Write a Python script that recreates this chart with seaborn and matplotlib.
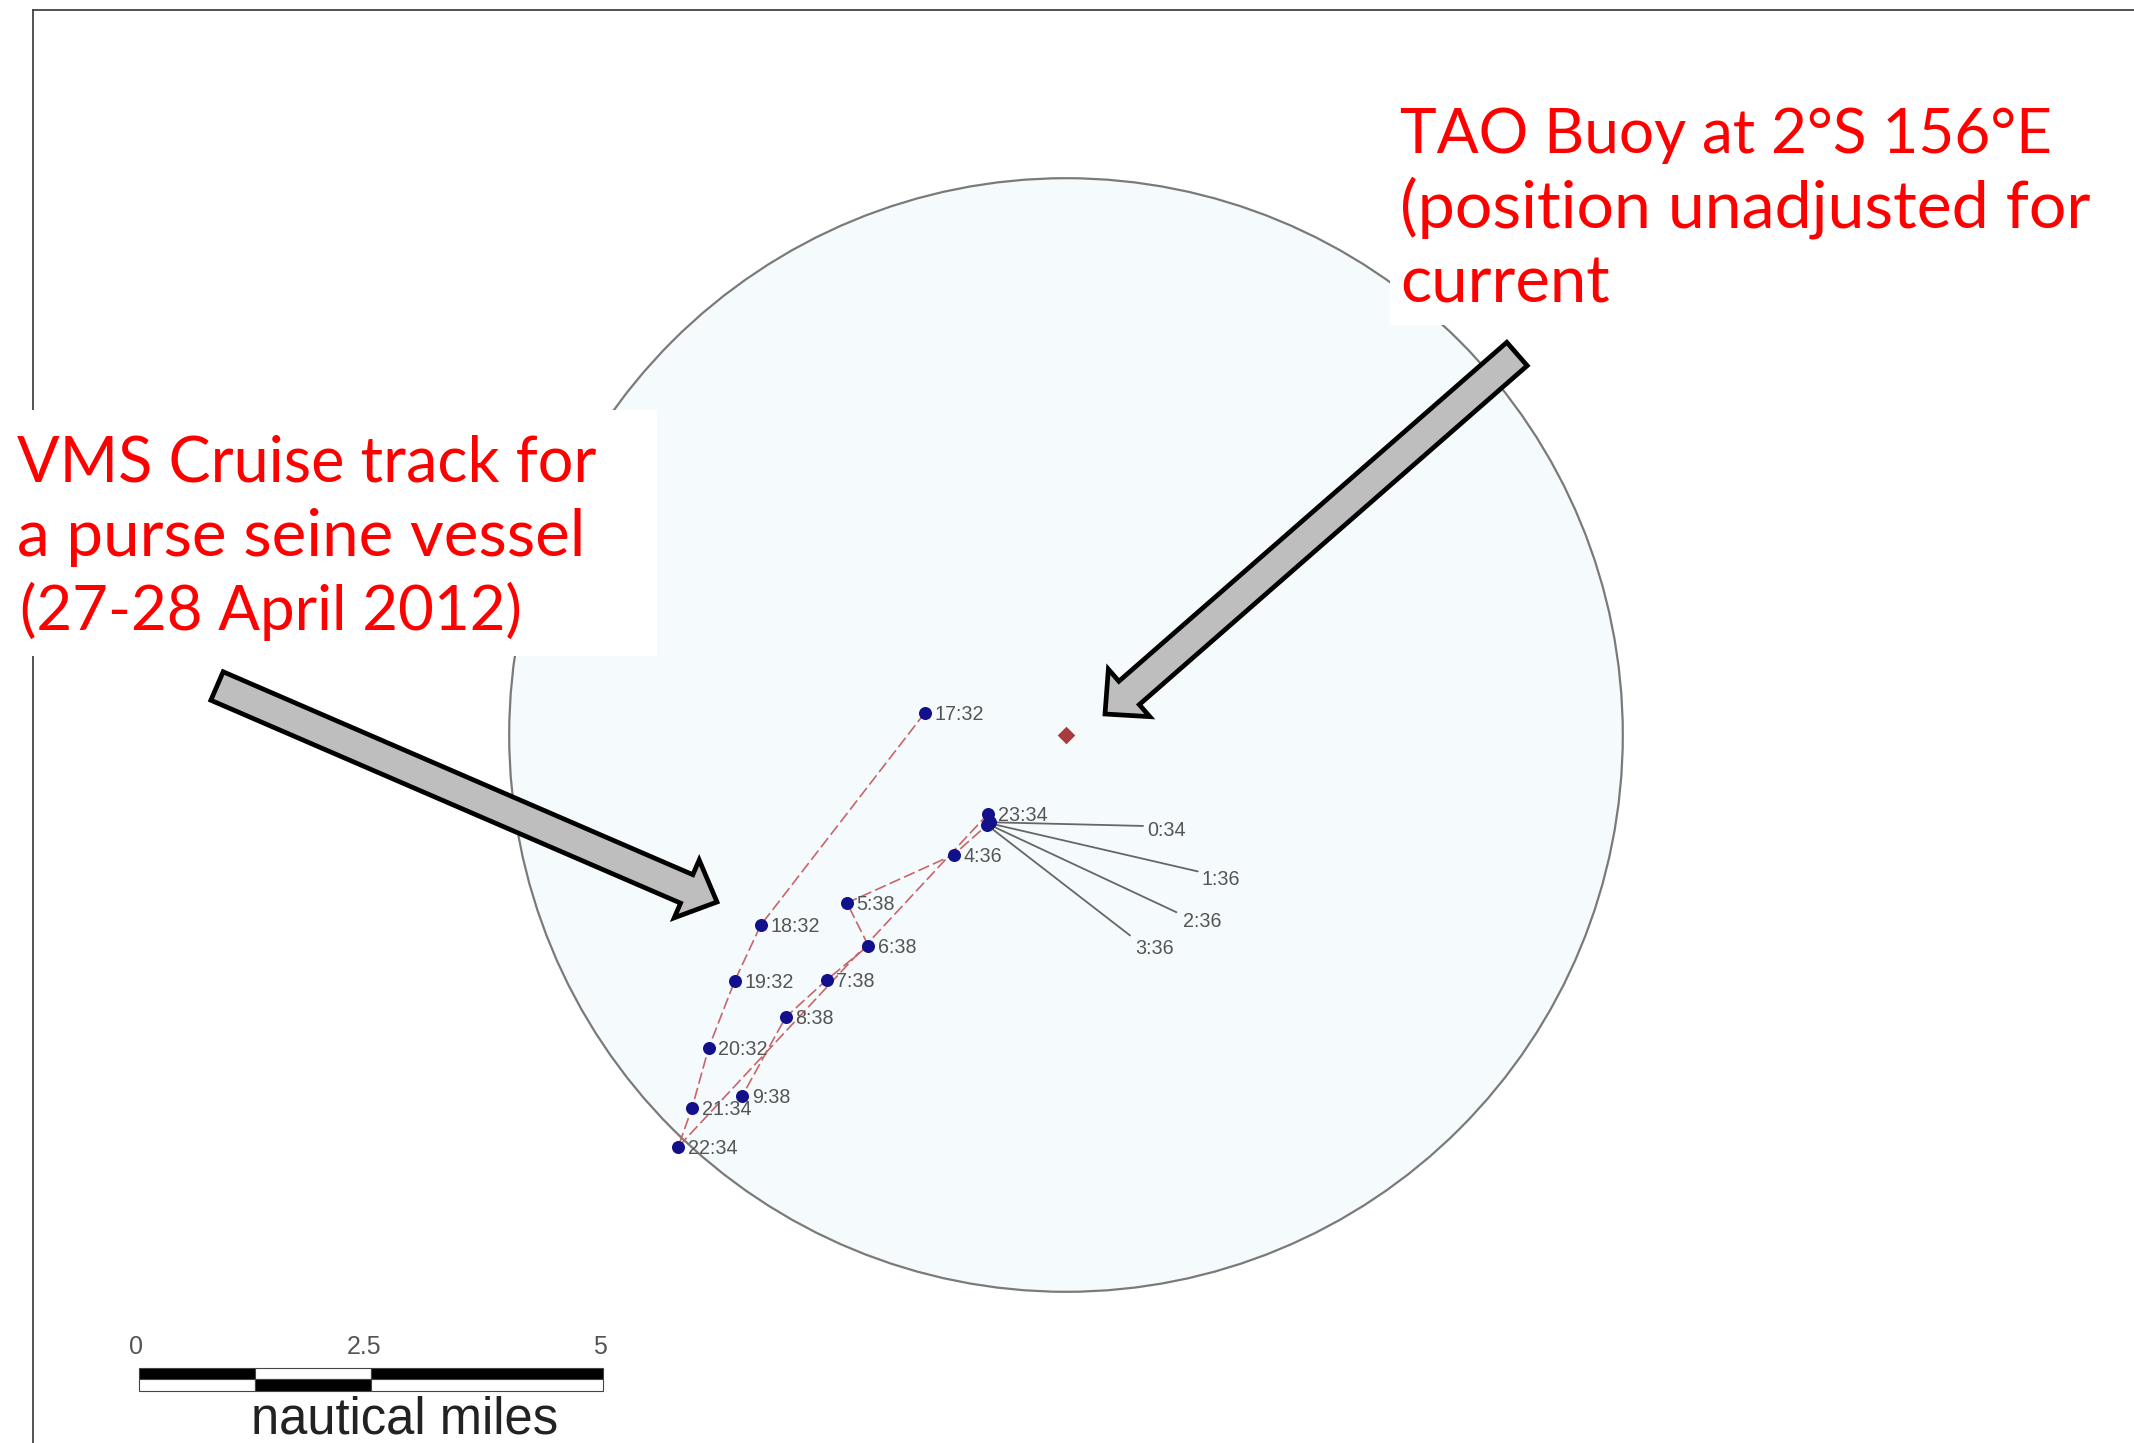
import matplotlib
matplotlib.use('Agg')
import matplotlib.pyplot as plt
from matplotlib.patches import Circle, FancyArrow, Rectangle
import pandas as pd
import seaborn as sns

# Vessel track, nautical miles east / north of the buoy
TIMES = ['17:32', '18:32', '19:32', '20:32', '21:34', '22:34', '23:34', '0:34',
         '1:36', '2:36', '3:36', '4:36', '5:38', '6:38', '7:38', '8:38', '9:38']
EAST = [-1.52, -3.29, -3.57, -3.85, -4.03, -4.18, -0.84, -0.82,
        -0.83, -0.84, -0.85, -1.21, -2.36, -2.13, -2.58, -3.02, -3.49]
NORTH = [0.24, -2.05, -2.65, -3.37, -4.02, -4.44, -0.85, -0.94,
         -0.95, -0.96, -0.97, -1.29, -1.81, -2.27, -2.64, -3.04, -3.89]

# Labels pulled away from the cluster with a leader line
LEADER_TIMES = ['0:34', '1:36', '2:36', '3:36']
LEADER_EAST = [0.85, 1.43, 1.23, 0.72]
LEADER_NORTH = [-0.94, -1.47, -1.92, -2.21]
LEADER_END_EAST = [0.83, 1.42, 1.19, 0.69]
LEADER_END_NORTH = [-0.98, -1.47, -1.91, -2.16]

BUOY_EAST = [0.0]
BUOY_NORTH = [0.0]
RANGE_RADIUS = 6.0

SCALE_EDGES = [0, 1.25, 2.5, 5]
SCALE_TICKS = ['0', '2.5', '5']
SCALE_TICK_SHIFT = [-2, -4.9, -2]

LEFT_NOTE = ['VMS Cruise track for', 'a purse seine vessel', '(27-28 April 2012)']
LEFT_SIZES = [45.4, 47.2, 44.5]
RIGHT_NOTE = ['TAO Buoy at 2°S 156°E', '(position unadjusted for', 'current']
RIGHT_SIZES = [44.7, 47.7, 47]

W, H = 2134, 1443
CX, CY = 1066, 735   # buoy position on the image
PX_PER_NM = 92.8


def px(x, y):
    """Image pixel to map coordinates, for the annotations"""
    return (x - CX) / PX_PER_NM, (CY - y) / PX_PER_NM


sns.set_theme(style='white')
plt.rcParams['font.family'] = ['Liberation Sans', 'DejaVu Sans']

fig = plt.figure(figsize=(W / 100, H / 100), dpi=100, facecolor='white')
ax = fig.add_axes([33 / W, 0, 1 - 33 / W, 1 - 10 / H])
ax.set_xlim(px(33, 0)[0], px(W, 0)[0])
ax.set_ylim(px(0, H)[1], px(0, 10)[1])
ax.set_xticks([])
ax.set_yticks([])
for side in ['right', 'bottom']:
    ax.spines[side].set_visible(False)
for side in ['top', 'left']:
    ax.spines[side].set_color('#444444')
    ax.spines[side].set_linewidth(1.3)

ax.add_patch(Circle((BUOY_EAST[0], BUOY_NORTH[0]), RANGE_RADIUS, facecolor='#f5fbfc',
                    edgecolor='#7a7a7a', linewidth=1.6, zorder=1))

track = pd.DataFrame({'time': TIMES, 'east': EAST, 'north': NORTH})
sns.lineplot(data=track, x='east', y='north', sort=False, estimator=None, ax=ax,
             color='#c9656a', linewidth=1.2, linestyle=(0, (7, 2.5)), zorder=3)

for t, ex, ny in zip(LEADER_TIMES, LEADER_END_EAST, LEADER_END_NORTH):
    row = track[track['time'] == t].iloc[0]
    ax.plot([row['east'], ex], [row['north'], ny], color='#666666', lw=1.3, zorder=3)

sns.scatterplot(data=track, x='east', y='north', ax=ax, color='#12108a', s=88,
                linewidth=0, zorder=4)
sns.scatterplot(x=BUOY_EAST, y=BUOY_NORTH, ax=ax, color='#a83a40', marker='D', s=80,
                linewidth=0, zorder=4)
ax.set_xlabel('')
ax.set_ylabel('')

for t, ex, ny in zip(track['time'], track['east'], track['north']):
    if t in LEADER_TIMES:
        continue
    ax.annotate(t, (ex, ny), xytext=(7, -1), textcoords='offset points', va='center',
                ha='left', fontsize=14.2, color='#555555', zorder=5)
for t, ex, ny in zip(LEADER_TIMES, LEADER_EAST, LEADER_NORTH):
    ax.annotate(t, (ex, ny), xytext=(2, -6), textcoords='offset points', va='center',
                ha='left', fontsize=14.2, color='#555555', zorder=5)

# White boxes behind the notes hide the frame and the circle
x0, y0 = px(0, 656)
x1, y1 = px(657, 410)
ax.add_patch(Rectangle((x0, y0), x1 - x0, y1 - y0, facecolor='white', edgecolor='none',
                       zorder=6, clip_on=False))
x0, y0 = px(1390, 325)
x1, y1 = px(W, 85)
ax.add_patch(Rectangle((x0, y0), x1 - x0, y1 - y0, facecolor='white', edgecolor='none',
                       zorder=6))

for line, base, size, left in zip(LEFT_NOTE, [481, 556, 630], LEFT_SIZES, [17, 17, 20]):
    x, y = px(left, base)
    ax.text(x, y, line, color='#ff0000', fontsize=size, family='Lato', va='baseline', zorder=7)
for line, base, size in zip(RIGHT_NOTE, [153, 227, 302], RIGHT_SIZES):
    x, y = px(1400, base)
    ax.text(x, y, line, color='#ff0000', fontsize=size, family='Lato', va='baseline', zorder=7)

# Grey arrows
for tail, tip, shaft, head_w, head_l in [((217, 686), (717, 902), 31, 63, 33),
                                         ((1517, 354), (1105, 714), 31, 63, 32)]:
    x, y = px(*tail)
    xe, ye = px(*tip)
    ax.add_patch(FancyArrow(x, y, xe - x, ye - y, width=shaft / PX_PER_NM,
                            head_width=head_w / PX_PER_NM, head_length=head_l / PX_PER_NM,
                            length_includes_head=True, facecolor='#bebebe', edgecolor='black',
                            linewidth=3.4, joinstyle='miter', zorder=8))

# Scale bar, 0 to 5 nautical miles
bar_x, bar_mid = px(139, 1379)
bar_h = 11.5 / PX_PER_NM
for i in range(len(SCALE_EDGES) - 1):
    left = bar_x + SCALE_EDGES[i]
    width = SCALE_EDGES[i + 1] - SCALE_EDGES[i]
    upper, lower = ('black', 'white') if i % 2 == 0 else ('white', 'black')
    ax.bar(left, bar_h, width=width, bottom=bar_mid, align='edge', color=upper,
           edgecolor='#444444', linewidth=0.8, zorder=5)
    ax.bar(left, bar_h, width=width, bottom=bar_mid - bar_h, align='edge', color=lower,
           edgecolor='#444444', linewidth=0.8, zorder=5)
for label, edge, shift in zip(SCALE_TICKS, SCALE_EDGES[0:1] + SCALE_EDGES[2:], SCALE_TICK_SHIFT):
    ax.annotate(label, (bar_x + edge, px(0, 1346)[1]), xytext=(shift, -1),
                textcoords='offset points', ha='center', va='center', fontsize=18,
                color='#555555', zorder=5)
x, y = px(405, 1433)
ax.text(x, y, 'nautical miles', ha='center', va='baseline', fontsize=36.5, color='#222222',
        zorder=5)

fig.savefig('out.png', dpi=100)
